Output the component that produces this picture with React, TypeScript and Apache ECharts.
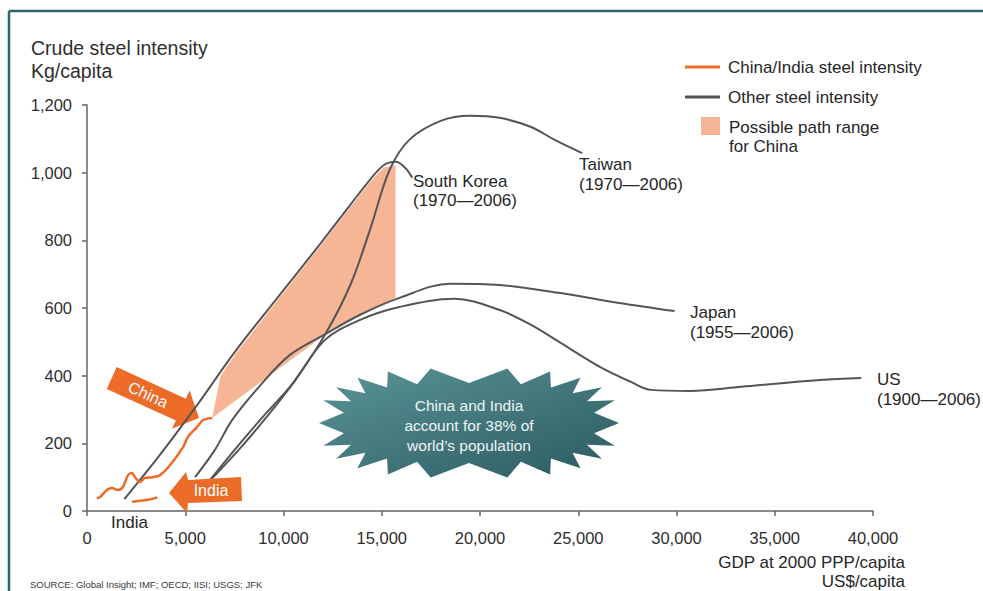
import React, { useEffect, useRef } from "react";
import * as echarts from "echarts";

// ---- Data (GDP at 2000 PPP US$/capita, crude steel kg/capita) ----
const xTicks = [0, 5000, 10000, 15000, 20000, 25000, 30000, 35000, 40000];
const yTicks = [0, 200, 400, 600, 800, 1000, 1200];

const southKorea: [number, number][] = [
  [1900, 35], [3700, 165], [5600, 313], [7600, 476], [9800, 638], [11900, 792],
  [13400, 905], [14400, 979], [15100, 1022], [15700, 1032], [16200, 1014], [16550, 985],
];
const taiwan: [number, number][] = [
  [6100, 80], [7800, 186], [9100, 275], [10600, 387], [12100, 520], [13400, 668],
  [14400, 831], [15400, 1008], [16400, 1097], [18000, 1153], [19500, 1168],
  [21000, 1162], [22600, 1135], [23800, 1097], [25200, 1058],
];
const japan: [number, number][] = [
  [5500, 100], [6500, 180], [7400, 270], [8800, 370], [10300, 460], [12200, 525],
  [13900, 580], [15900, 630], [18500, 672], [21000, 668], [24100, 644],
  [27100, 615], [29900, 591],
];
const us: [number, number][] = [
  [6100, 80], [7500, 180], [8900, 275], [10400, 372], [12100, 505], [13900, 565],
  [15900, 603], [18700, 627], [21000, 594], [22600, 550], [24100, 497],
  [26100, 426], [27700, 381], [28700, 358], [30700, 355], [33300, 367],
  [37300, 387], [39400, 393],
];
const china: [number, number][] = [
  [500, 38], [660, 41], [1020, 62], [1270, 68], [1580, 62], [1830, 71], [2090, 106],
  [2290, 112], [2440, 100], [2700, 86], [2950, 98], [3360, 100], [3720, 106],
  [4230, 136], [4890, 189], [5140, 219], [5600, 248], [5910, 269], [6370, 275],
];
const india: [number, number][] = [
  [2290, 27], [2700, 30], [3100, 33], [3460, 38], [3570, 41],
];
const chinaPathRange: [number, number][] = [
  [6370, 275], [6800, 400], [7600, 468], [9800, 630], [11900, 785], [13400, 898],
  [14400, 972], [15100, 1015], [15700, 1022], [15700, 630], [13900, 580], [12200, 525],
];

const seriesLabels = [
  { name: "South Korea", period: "(1970\u20142006)" },
  { name: "Taiwan", period: "(1970\u20142006)" },
  { name: "Japan", period: "(1955\u20142006)" },
  { name: "US", period: "(1900\u20142006)" },
];

const FONT = '"Liberation Sans", Arial, Helvetica, sans-serif';
const ORANGE = "#ec6b26";
const GRAY = "#555555";
const FILL = "#f6b595";
const TEXT = "#262626";

function txt(x: number, y: number, text: string, size = 17, align = "left", fill = TEXT, extra: any = {}) {
  return {
    type: "text",
    x,
    y,
    silent: true,
    z: 100,
    ...extra,
    style: {
      text,
      fill,
      font: `${size}px ${FONT}`,
      align,
      textAlign: align,
      verticalAlign: "middle",
      textVerticalAlign: "middle",
    },
  };
}

// decorative starburst outline (not data)
function starPoints(cx: number, cy: number, rxo: number, ryo: number, rxi: number, ryi: number, n: number) {
  const pts: number[][] = [];
  const e = 0.7;
  for (let i = 0; i < 2 * n; i++) {
    const a = (Math.PI * i) / n;
    const outer = i % 2 === 0;
    const c = Math.cos(a);
    const s = Math.sin(a);
    const px = Math.sign(c) * Math.pow(Math.abs(c), e);
    const py = Math.sign(s) * Math.pow(Math.abs(s), e);
    pts.push([cx + (outer ? rxo : rxi) * px, cy + (outer ? ryo : ryi) * py]);
  }
  return pts;
}

export default function App() {
  const ref = useRef<HTMLDivElement>(null);
  useEffect(() => {
    if (!ref.current) return;
    const chart = echarts.init(ref.current, undefined, { renderer: "svg" });

    const grayLine = (name: string, data: [number, number][]) => ({
      name,
      type: "line",
      data,
      smooth: 0.35,
      showSymbol: false,
      symbol: "none",
      lineStyle: { color: GRAY, width: 2 },
      z: 3,
    });

    const graphic: any[] = [
      // frame
      { type: "line", shape: { x1: 9, y1: 11, x2: 983, y2: 11 }, style: { stroke: "#2c6470", lineWidth: 2.5 }, silent: true },
      { type: "line", shape: { x1: 9, y1: 11, x2: 9, y2: 591 }, style: { stroke: "#2c6470", lineWidth: 2.5 }, silent: true },
      // title
      txt(31, 48, "Crude steel intensity", 19.5, "left", "#2e2e2e"),
      txt(31, 71, "Kg/capita", 19.5, "left", "#2e2e2e"),
      // legend
      { type: "line", shape: { x1: 685, y1: 67, x2: 720, y2: 67 }, style: { stroke: ORANGE, lineWidth: 3 }, silent: true },
      txt(728, 67, "China/India steel intensity"),
      { type: "line", shape: { x1: 685, y1: 97, x2: 720, y2: 97 }, style: { stroke: GRAY, lineWidth: 3 }, silent: true },
      txt(728, 97, "Other steel intensity"),
      { type: "rect", shape: { x: 701, y: 117, width: 19, height: 18 }, style: { fill: FILL }, silent: true },
      txt(729, 127, "Possible path range"),
      txt(729, 146, "for China"),
      // series labels
      txt(413, 181, seriesLabels[0].name),
      txt(413, 200, seriesLabels[0].period),
      txt(579, 164, seriesLabels[1].name),
      txt(579, 184, seriesLabels[1].period),
      txt(690, 312, seriesLabels[2].name),
      txt(690, 332, seriesLabels[2].period),
      txt(877, 379, seriesLabels[3].name),
      txt(877, 399, seriesLabels[3].period),
      // India label under axis
      txt(111, 522, "India"),
      // x axis name
      txt(905, 562, "GDP at 2000 PPP/capita", 17, "right"),
      txt(905, 581, "US$/capita", 17, "right"),
      // source
      txt(30, 584, "SOURCE: Global Insight; IMF; OECD; IISI; USGS; JFK", 9.5, "left", "#3a3a3a"),
      // starburst
      {
        type: "polygon",
        shape: { points: starPoints(469, 423, 150, 55, 126, 40, 22) },
        style: {
          fill: new echarts.graphic.LinearGradient(0, 0, 1, 1, [
            { offset: 0, color: "#5a9498" },
            { offset: 1, color: "#2b5a60" },
          ]),
        },
        silent: true,
        z: 50,
      },
      txt(469, 405, "China and India", 15.5, "center", "#eef4f4"),
      txt(469, 425, "account for 38% of", 15.5, "center", "#eef4f4"),
      txt(469, 445, "world\u2019s population", 15.5, "center", "#eef4f4"),
      // China arrow
      {
        type: "group",
        x: 199,
        y: 418,
        rotation: -0.43,
        z: 60,
        children: [
          {
            type: "polygon",
            shape: { points: [[-96, -12], [-20, -12], [-20, -21], [0, 0], [-20, 21], [-20, 12], [-96, 12]] },
            style: { fill: ORANGE },
            silent: true,
          },
          txt(-56, 0, "China", 16, "center", "#ffffff"),
        ],
      },
      // India arrow
      {
        type: "polygon",
        shape: { points: [[169, 493], [186, 472], [188, 480], [241, 477], [242, 501], [188, 503], [187, 513]] },
        style: { fill: ORANGE },
        silent: true,
        z: 60,
      },
      txt(211, 490, "India", 16, "center", "#ffffff", { z: 61 }),
    ];

    chart.setOption({
      animation: false,
      backgroundColor: "#ffffff",
      grid: { left: 87, right: 110, top: 105, bottom: 80, containLabel: false },
      xAxis: {
        type: "value",
        min: 0,
        max: 40000,
        interval: 5000,
        axisLine: { show: true, lineStyle: { color: "#666", width: 1.5 } },
        axisTick: { show: true, length: 5, lineStyle: { color: "#666", width: 1.5 } },
        splitLine: { show: false },
        axisLabel: {
          margin: 18,
          color: "#2e2e2e",
          fontSize: 16.5,
          fontFamily: FONT,
          formatter: (v: number) => (xTicks.includes(v) ? v.toLocaleString("en-US") : ""),
        },
      },
      yAxis: {
        type: "value",
        min: 0,
        max: 1200,
        interval: 200,
        axisLine: { show: true, lineStyle: { color: "#666", width: 1.5 } },
        axisTick: { show: true, length: 5, lineStyle: { color: "#666", width: 1.5 } },
        splitLine: { show: false },
        axisLabel: {
          margin: 15,
          color: "#2e2e2e",
          fontSize: 16.5,
          fontFamily: FONT,
          formatter: (v: number) => (yTicks.includes(v) ? v.toLocaleString("en-US") : ""),
        },
      },
      series: [
        {
          name: "Possible path range for China",
          type: "custom",
          clip: false,
          z: 1,
          data: [chinaPathRange[0]],
          renderItem: (_params: any, api: any) => {
            const pts = chinaPathRange.map((p) => api.coord(p));
            return { type: "polygon", shape: { points: pts }, style: { fill: FILL } };
          },
        },
        grayLine("South Korea", southKorea),
        grayLine("Taiwan", taiwan),
        grayLine("Japan", japan),
        grayLine("US", us),
        {
          name: "China",
          type: "line",
          data: china,
          smooth: 0.3,
          showSymbol: false,
          symbol: "none",
          lineStyle: { color: ORANGE, width: 2.5 },
          z: 4,
        },
        {
          name: "India",
          type: "line",
          data: india,
          smooth: 0.3,
          showSymbol: false,
          symbol: "none",
          lineStyle: { color: ORANGE, width: 2.5 },
          z: 4,
        },
      ],
      graphic,
    });

    return () => chart.dispose();
  }, []);

  return (
    <div
      ref={ref}
      style={{ position: "fixed", left: 0, top: 0, width: 983, height: 591, background: "#fff" }}
    />
  );
}
